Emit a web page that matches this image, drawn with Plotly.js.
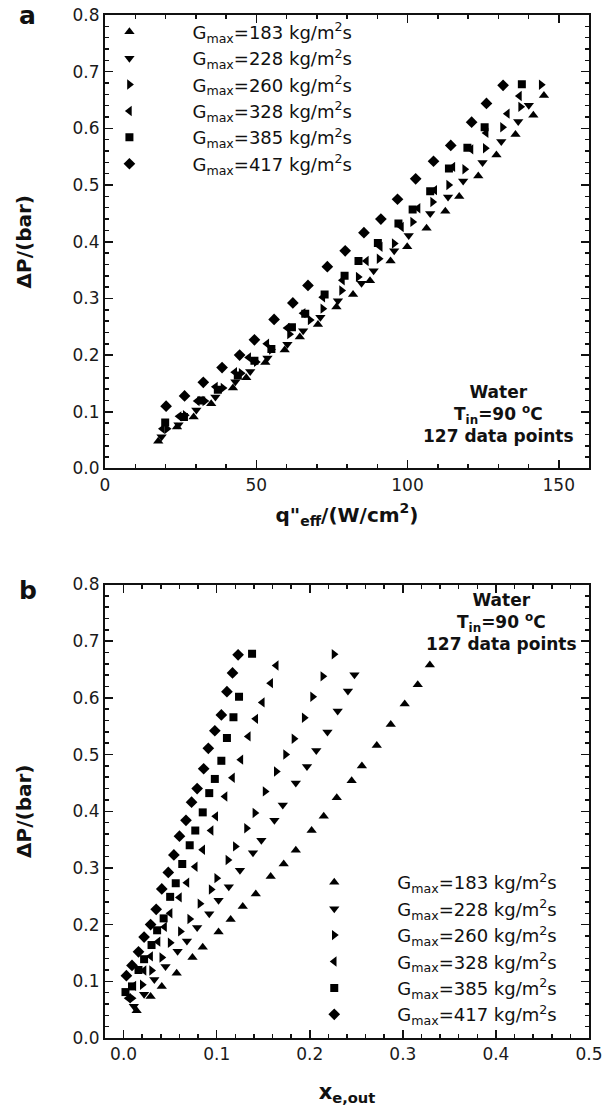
<!DOCTYPE html>
<html><head><meta charset="utf-8">
<script src="https://cdn.plot.ly/plotly-3.0.1.min.js"></script>
<style>html,body{margin:0;padding:0;background:#fff}#chart{width:614px;height:1106px}</style>
</head><body><div id="chart"></div>
<script>
// Series labels (G_max values)
const seriesLabels = ['183', '228', '260', '328', '385', '417'];
const symbols = ['triangle-up', 'triangle-down', 'triangle-right', 'triangle-left', 'square', 'diamond'];

// Pressure drop ΔP (bar) for each series
const dp183 = [0.048, 0.073, 0.091, 0.114, 0.142, 0.160, 0.187, 0.209, 0.232, 0.254, 0.285, 0.307, 0.331, 0.366, 0.391, 0.424, 0.454, 0.480, 0.516, 0.553, 0.589, 0.623, 0.658];
const dp228 = [0.056, 0.077, 0.103, 0.126, 0.153, 0.171, 0.195, 0.219, 0.243, 0.267, 0.296, 0.327, 0.349, 0.384, 0.411, 0.450, 0.479, 0.507, 0.540, 0.577, 0.612, 0.641];
const dp260 = [0.070, 0.094, 0.119, 0.142, 0.168, 0.188, 0.210, 0.237, 0.262, 0.282, 0.314, 0.338, 0.370, 0.397, 0.435, 0.470, 0.500, 0.528, 0.565, 0.602, 0.638, 0.677];
const dp328 = [0.070, 0.092, 0.119, 0.144, 0.170, 0.196, 0.220, 0.248, 0.274, 0.302, 0.332, 0.366, 0.391, 0.426, 0.459, 0.491, 0.532, 0.563, 0.592, 0.626, 0.657];
const dp385 = [0.081, 0.091, 0.120, 0.139, 0.164, 0.190, 0.211, 0.249, 0.273, 0.307, 0.340, 0.366, 0.398, 0.432, 0.457, 0.489, 0.529, 0.566, 0.602, 0.678];
const dp417 = [0.110, 0.128, 0.152, 0.178, 0.200, 0.227, 0.263, 0.292, 0.323, 0.356, 0.384, 0.416, 0.440, 0.475, 0.511, 0.542, 0.570, 0.611, 0.644, 0.676];

// Effective heat flux q''_eff (W/cm2) – panel a
const q183 = [17.6, 23.8, 29.3, 35.1, 42.3, 46.7, 53.0, 59.4, 64.4, 70.4, 76.5, 82.0, 87.6, 94.4, 99.9, 106.3, 112.5, 117.1, 123.4, 129.4, 135.7, 141.6, 145.1];
const q228 = [18.7, 24.3, 30.2, 36.5, 43.1, 48.0, 53.7, 60.3, 65.5, 71.2, 77.0, 84.8, 88.8, 95.6, 100.4, 107.5, 113.4, 118.4, 124.8, 131.0, 136.6, 140.1];
const q260 = [20.5, 26.5, 33.0, 39.0, 45.0, 50.0, 55.0, 61.0, 67.8, 72.0, 78.2, 83.7, 90.6, 95.6, 101.7, 108.3, 113.6, 118.9, 125.7, 131.4, 137.4, 144.2];
const q328 = [19.0, 24.5, 30.5, 36.5, 42.9, 47.5, 53.5, 60.2, 65.5, 72.0, 78.5, 86.4, 91.0, 98.0, 103.5, 109.0, 115.0, 121.0, 126.0, 133.0, 137.0];
const q385 = [19.9, 26.1, 31.8, 37.3, 43.9, 49.4, 55.0, 61.8, 66.2, 72.6, 79.2, 83.8, 90.2, 97.0, 101.7, 107.5, 113.7, 119.8, 125.5, 137.8];
const q417 = [20.2, 26.3, 32.5, 38.7, 44.5, 49.4, 55.9, 62.1, 67.1, 73.5, 79.4, 85.6, 91.2, 96.7, 102.7, 108.6, 114.3, 121.2, 126.1, 131.6];

// Outlet thermodynamic quality x_e,out – panel b
const xe183 = [0.014, 0.029, 0.041, 0.057, 0.074, 0.085, 0.102, 0.115, 0.128, 0.142, 0.158, 0.172, 0.185, 0.202, 0.215, 0.229, 0.245, 0.256, 0.272, 0.287, 0.302, 0.316, 0.329];
const xe228 = [0.011, 0.022, 0.033, 0.045, 0.058, 0.068, 0.079, 0.092, 0.102, 0.113, 0.125, 0.139, 0.148, 0.162, 0.171, 0.185, 0.197, 0.207, 0.219, 0.230, 0.241, 0.248];
const xe260 = [0.009, 0.020, 0.030, 0.041, 0.050, 0.061, 0.071, 0.082, 0.094, 0.100, 0.112, 0.120, 0.132, 0.141, 0.152, 0.164, 0.174, 0.183, 0.194, 0.203, 0.214, 0.226];
const xe328 = [0.005, 0.011, 0.022, 0.029, 0.037, 0.044, 0.050, 0.060, 0.068, 0.077, 0.085, 0.094, 0.099, 0.109, 0.117, 0.126, 0.134, 0.142, 0.149, 0.158, 0.164];
const xe385 = [0.002, 0.009, 0.016, 0.022, 0.030, 0.036, 0.043, 0.050, 0.056, 0.063, 0.071, 0.077, 0.085, 0.092, 0.098, 0.105, 0.111, 0.118, 0.124, 0.138];
const xe417 = [0.003, 0.009, 0.016, 0.022, 0.029, 0.035, 0.041, 0.048, 0.054, 0.060, 0.067, 0.073, 0.079, 0.086, 0.091, 0.098, 0.105, 0.111, 0.117, 0.123];

const dpSets = [dp183, dp228, dp260, dp328, dp385, dp417];
const qSets = [q183, q228, q260, q328, q385, q417];
const xeSets = [xe183, xe228, xe260, xe328, xe385, xe417];
const markerSizes = [9, 9, 9, 9, 8, 9];

const FONT = 'DejaVu Sans, Arial, sans-serif';
const INK = '#111';

const traces = [];
seriesLabels.forEach((g, i) => {
  const name = 'G<sub>max</sub>=' + g + ' kg/m<sup>2</sup>s';
  const marker = {symbol: symbols[i], size: markerSizes[i], color: '#000', line: {width: 0}};
  traces.push({x: qSets[i], y: dpSets[i], xaxis: 'x', yaxis: 'y', type: 'scatter', mode: 'markers',
    marker: marker, name: name, legend: 'legend', showlegend: true});
  traces.push({x: xeSets[i], y: dpSets[i], xaxis: 'x2', yaxis: 'y2', type: 'scatter', mode: 'markers',
    marker: marker, name: name, legend: 'legend2', showlegend: true});
});

function axisBase() {
  return {
    showline: true, linewidth: 2, linecolor: INK, mirror: 'ticks',
    ticks: 'inside', ticklen: 8, tickwidth: 1.5, tickcolor: INK,
    showgrid: false, zeroline: false, automargin: false,
    tickfont: {family: FONT, size: 17, color: '#1a1a1a'}
  };
}

const yTop = [0.5567, 1];
const yBot = [0, 0.4433];

const layout = {
  width: 614, height: 1106,
  margin: {l: 105, r: 25, t: 15, b: 68},
  paper_bgcolor: '#fff', plot_bgcolor: '#fff',
  font: {family: FONT, color: INK},
  xaxis: Object.assign(axisBase(), {
    anchor: 'y', range: [0, 160], tick0: 0, dtick: 50,
    minor: {dtick: 10, tick0: 0, ticks: 'inside', ticklen: 4, tickwidth: 1.5, tickcolor: INK},
    title: {text: '<b>q"<sub>eff</sub>/(W/cm<sup>2</sup>)</b>', font: {family: FONT, size: 20, color: INK}, standoff: 14}
  }),
  yaxis: Object.assign(axisBase(), {
    anchor: 'x', domain: yTop, range: [0, 0.8], tick0: 0, dtick: 0.1, tickformat: '.1f',
    minor: {dtick: 0.02, tick0: 0, ticks: 'inside', ticklen: 4, tickwidth: 1.5, tickcolor: INK},
    title: {text: '<b>ΔP/(bar)</b>', font: {family: FONT, size: 20, color: INK}, standoff: 36}
  }),
  xaxis2: Object.assign(axisBase(), {
    anchor: 'y2', range: [-0.02, 0.5], tick0: 0, dtick: 0.1, tickformat: '.1f',
    minor: {dtick: 0.02, tick0: 0, ticks: 'inside', ticklen: 4, tickwidth: 1.5, tickcolor: INK},
    title: {text: '<b>x<sub>e,out</sub></b>', font: {family: FONT, size: 21, color: INK}, standoff: 22}
  }),
  yaxis2: Object.assign(axisBase(), {
    anchor: 'x2', domain: yBot, range: [0, 0.8], tick0: 0, dtick: 0.1, tickformat: '.1f',
    minor: {dtick: 0.02, tick0: 0, ticks: 'inside', ticklen: 4, tickwidth: 1.5, tickcolor: INK},
    title: {text: '<b>ΔP/(bar)</b>', font: {family: FONT, size: 20, color: INK}, standoff: 36}
  }),
  legend: {
    x: -0.0797, y: 1.0014, xanchor: 'left', yanchor: 'top', xref: 'paper', yref: 'paper',
    bgcolor: 'rgba(0,0,0,0)', borderwidth: 0, itemwidth: 116, tracegroupgap: 0,
    font: {family: FONT, size: 18, color: INK}
  },
  legend2: {
    x: 0.3435, y: 0.170, xanchor: 'left', yanchor: 'top', xref: 'paper', yref: 'paper',
    bgcolor: 'rgba(0,0,0,0)', borderwidth: 0, itemwidth: 116, tracegroupgap: 0,
    font: {family: FONT, size: 18, color: INK}
  },
  annotations: [
    {text: '<b>a</b>', xref: 'paper', yref: 'paper', x: -0.16, y: 1.0, xanchor: 'center', yanchor: 'middle',
     showarrow: false, font: {family: FONT, size: 25, color: INK}},
    {text: '<b>b</b>', xref: 'paper', yref: 'paper', x: -0.16, y: 0.437, xanchor: 'center', yanchor: 'middle',
     showarrow: false, font: {family: FONT, size: 25, color: INK}},
    {text: '<b>Water<br>T<sub>in</sub>=90 <sup>o</sup>C<br>127 data points</b>', xref: 'paper', yref: 'paper',
     x: 0.814, y: 0.610, xanchor: 'center', yanchor: 'middle', align: 'center', showarrow: false,
     font: {family: FONT, size: 17, color: INK}},
    {text: '<b>Water<br>T<sub>in</sub>=90 <sup>o</sup>C<br>127 data points</b>', xref: 'paper', yref: 'paper',
     x: 0.820, y: 0.4066, xanchor: 'center', yanchor: 'middle', align: 'center', showarrow: false,
     font: {family: FONT, size: 17, color: INK}}
  ],
  showlegend: true,
  hovermode: false
};

Plotly.newPlot('chart', traces, layout, {staticPlot: true, displayModeBar: false});
</script>
</body></html>
